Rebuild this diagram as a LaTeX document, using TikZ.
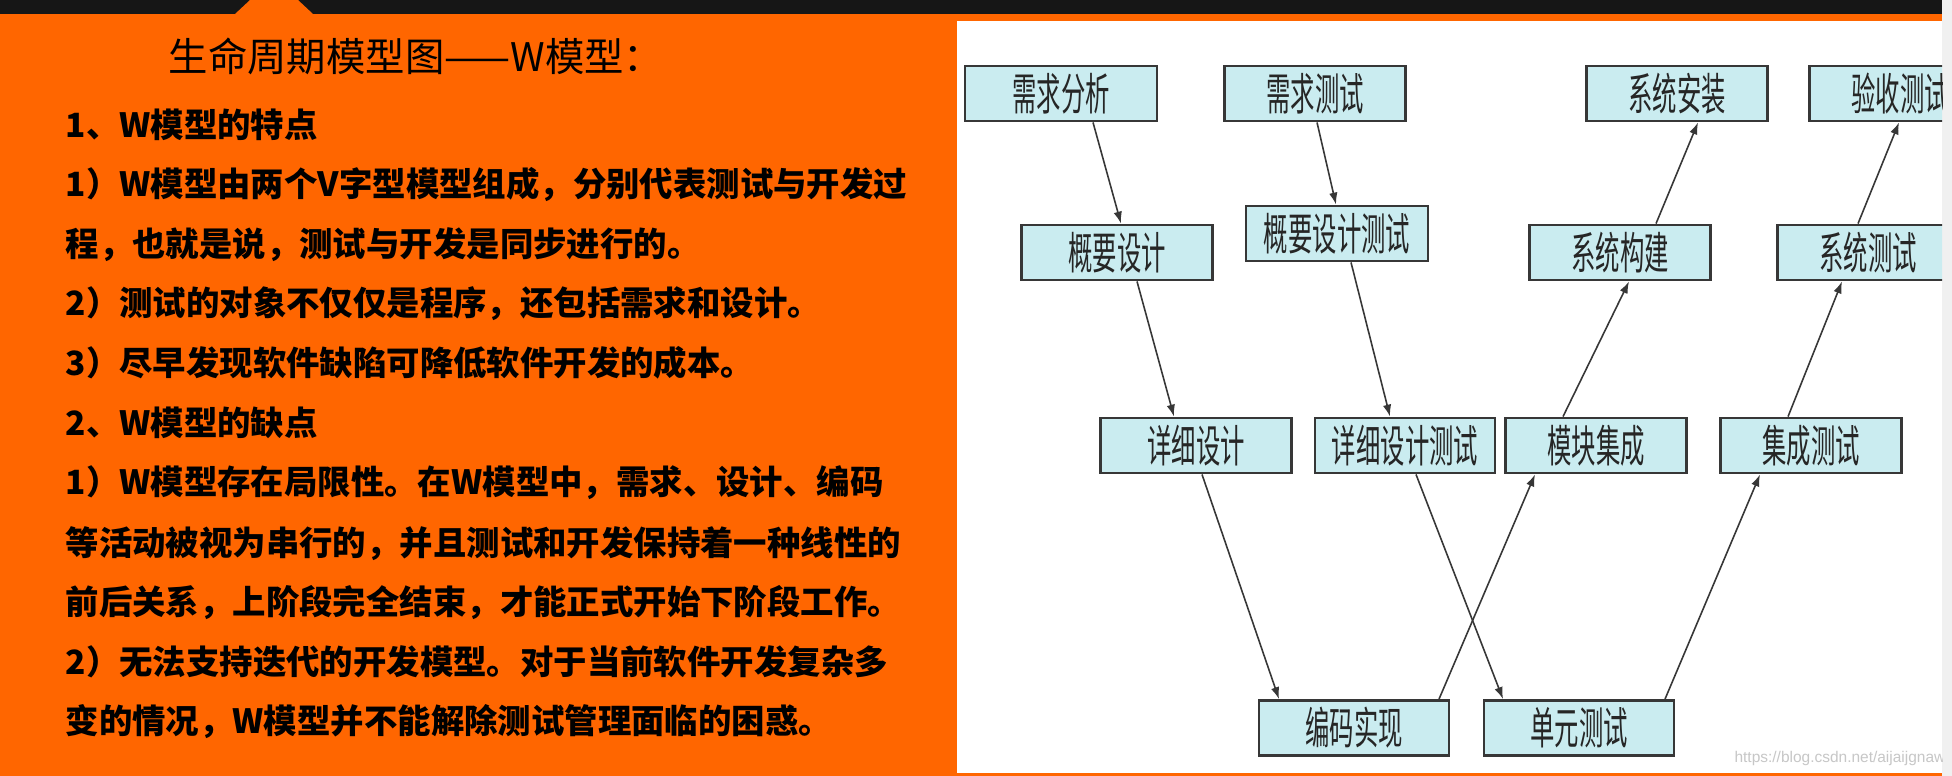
\documentclass[tikz,border=0pt]{standalone}
\usepackage{fontspec}
\usetikzlibrary{arrows.meta}
\newfontfamily\cjk{Noto Sans CJK SC}
\newfontfamily\cjknarrow{Noto Sans CJK SC}[FakeStretch=0.55]
\newfontfamily\markfont{Liberation Sans}
\definecolor{slide-orange}{RGB}{255,102,0}
\definecolor{bar-black}{RGB}{22,22,22}
\definecolor{box-cyan}{RGB}{202,236,240}
\definecolor{line-gray}{RGB}{55,55,55}

\begin{document}
\begin{tikzpicture}[x=0.01cm, y=-0.01cm,
    stage/.style = {rectangle, draw=line-gray, line width=0.8pt, fill=box-cyan,
                    minimum width=1.81cm, minimum height=0.55cm, inner sep=0pt,
                    font=\cjknarrow\fontsize{12.6pt}{13pt}\selectfont, text=black!85},
    flow/.style = {-{Latex[length=3.4pt,width=2.4pt]}, line width=0.45pt, color=line-gray},
    textline/.style = {anchor=west, inner sep=0pt,
                       font=\cjk\bfseries\fontsize{9.5pt}{12pt}\selectfont, text=black}
  ]
    \useasboundingbox (0,0) rectangle (1952,776);

    %% ---- slide background ----
    \fill[slide-orange] (0,0) rectangle (1952,776);
    \fill[bar-black] (0,0) rectangle (1942,14);
    \fill[slide-orange] (235,14) -- (250,0) -- (298,0) -- (313,14) -- cycle;
    \fill[black!6] (1942,0) rectangle (1952,776);
    \fill[white] (957,21) rectangle (1942,773);

    %% ---- left column: text ----
    \node[anchor=west, inner sep=0pt, font=\cjk\fontsize{11.2pt}{13pt}\selectfont] (title) at (168,56)
      {生命周期模型图——W模型：};
    \node[textline] (pros)  at (65,125) {1、W模型的特点};
    \node[textline] (pro1a) at (65,185) {1）W模型由两个V字型模型组成，分别代表测试与开发过};
    \node[textline] (pro1b) at (65,245) {程，也就是说，测试与开发是同步进行的。};
    \node[textline] (pro2)  at (65,304) {2）测试的对象不仅仅是程序，还包括需求和设计。};
    \node[textline] (pro3)  at (65,363) {3）尽早发现软件缺陷可降低软件开发的成本。};
    \node[textline] (cons)  at (65,423) {2、W模型的缺点};
    \node[textline] (con1a) at (65,483) {1）W模型存在局限性。在W模型中，需求、设计、编码};
    \node[textline] (con1b) at (65,544) {等活动被视为串行的，并且测试和开发保持着一种线性的};
    \node[textline] (con1c) at (65,603) {前后关系，上阶段完全结束，才能正式开始下阶段工作。};
    \node[textline] (con2a) at (65,662) {2）无法支持迭代的开发模型。对于当前软件开发复杂多};
    \node[textline] (con2b) at (65,722) {变的情况，W模型并不能解除测试管理面临的困惑。};

    %% ---- right column: W model ----
    \begin{scope}
      \clip (957,21) rectangle (1942,773);

      % top row
      \node[stage, minimum width=1.92cm] (reqana)  at (1061,93.5) {需求分析};
      \node[stage] (reqtest) at (1315,93.5) {需求测试};
      \node[stage] (sysinst) at (1677,93.5) {系统安装};
      \node[stage] (acctest) at (1900,93.5) {验收测试};

      % second row
      \node[stage, minimum width=1.91cm] (outline)  at (1117,252.5) {概要设计};
      \node[stage, minimum width=1.82cm] (outtest)  at (1337,233.5) {概要设计测试};
      \node[stage] (sysbuild) at (1620,252.5) {系统构建};
      \node[stage] (systest)  at (1868,252.5) {系统测试};

      % third row
      \node[stage, minimum width=1.91cm] (detail)  at (1196,445.5) {详细设计};
      \node[stage, minimum width=1.80cm] (dettest) at (1405,445.5) {详细设计测试};
      \node[stage] (modint)  at (1596,445.5) {模块集成};
      \node[stage] (inttest) at (1811,445.5) {集成测试};

      % bottom row
      \node[stage, minimum width=1.90cm] (coding)   at (1354,728) {编码实现};
      \node[stage, minimum width=1.90cm] (unittest) at (1579,728) {单元测试};

      % development V going down, test V going down
      \draw[flow] ([shift={(32,0)}]reqana.south)  -- ([shift={(4,0)}]outline.north);
      \draw[flow] ([shift={(2,0)}]reqtest.south)  -- ([shift={(-1,0)}]outtest.north);
      \draw[flow] ([shift={(20,0)}]outline.south) -- ([shift={(-22,0)}]detail.north);
      \draw[flow] ([shift={(14,0)}]outtest.south) -- ([shift={(-15,0)}]dettest.north);
      \draw[flow] ([shift={(6,0)}]detail.south)   -- ([shift={(-75,0)}]coding.north);
      \draw[flow] ([shift={(11,0)}]dettest.south) -- ([shift={(-76,0)}]unittest.north);

      % going back up
      \draw[flow] ([shift={(85,0)}]coding.north)   -- ([shift={(-61,0)}]modint.south);
      \draw[flow] ([shift={(86,0)}]unittest.north) -- ([shift={(-51,0)}]inttest.south);
      \draw[flow] ([shift={(-33,0)}]modint.north)  -- ([shift={(9,0)}]sysbuild.south);
      \draw[flow] ([shift={(-23,0)}]inttest.north) -- ([shift={(-26,0)}]systest.south);
      \draw[flow] ([shift={(36,0)}]sysbuild.north) -- ([shift={(21,0)}]sysinst.south);
      \draw[flow] ([shift={(-10,0)}]systest.north) -- ([shift={(-1,0)}]acctest.south);

      \node[anchor=east, inner sep=0pt, text=black!22,
            font=\markfont\fontsize{4.4pt}{5pt}\selectfont] (mark) at (1946,758)
        {https://blog.csdn.net/aijaijgnaw};
    \end{scope}

  \end{tikzpicture}
\end{document}
